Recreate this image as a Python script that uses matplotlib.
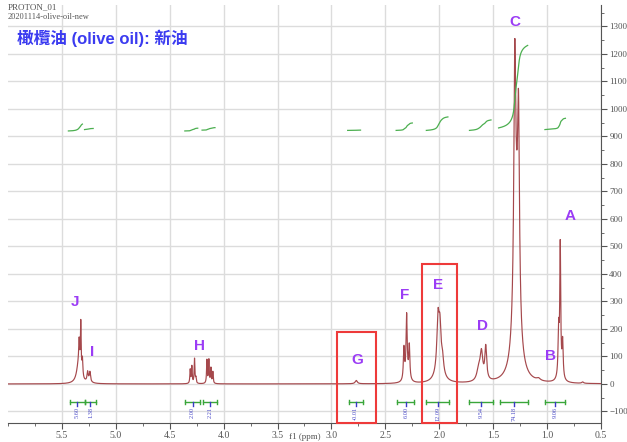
import numpy as np
import matplotlib
matplotlib.use("Agg")
import matplotlib.pyplot as plt
from matplotlib.patches import Rectangle

# ---- data ----
# peak list: position (ppm), height, half width (ppm)
peak_ppm = [5.345, 5.340, 5.325, 5.310, 5.262, 5.240, 5.250,
            4.310, 4.295, 4.270, 4.257, 4.155, 4.137, 4.118, 4.100,
            2.770,
            2.328, 2.303, 2.278, 2.300,
            2.012, 1.994, 1.970, 2.000,
            1.609, 1.569, 1.635,
            1.300, 1.265, 1.285,
            0.893, 0.878, 0.856, 0.880,
            1.080, 0.670]
peak_height = [70, 90, 180, 65, 32, 32, 10,
               50, 62, 90, 20, 85, 85, 55, 42,
               12,
               115, 215, 120, 30,
               180, 140, 50, 50,
               100, 120, 40,
               800, 660, 500,
               165, 460, 130, 30,
               8, 5]
peak_width = [0.022, 0.005, 0.004, 0.005, 0.006, 0.006, 0.020,
              0.004, 0.004, 0.004, 0.004, 0.004, 0.004, 0.004, 0.004,
              0.012,
              0.006, 0.006, 0.006, 0.020,
              0.012, 0.012, 0.012, 0.040,
              0.015, 0.010, 0.020,
              0.010, 0.010, 0.030,
              0.006, 0.005, 0.006, 0.020,
              0.020, 0.010]

# integral curves: region (ppm), start level, end level
int_from = [5.44, 5.29, 4.36, 4.20, 2.85, 2.40, 2.12, 1.72, 1.45, 1.02]
int_to = [5.31, 5.21, 4.24, 4.08, 2.73, 2.25, 1.92, 1.52, 1.18, 0.83]
int_y0 = [920, 925, 920, 923, 922, 922, 922, 922, 931, 925]
int_y1 = [945, 929, 930, 932, 923, 949, 971, 960, 1231, 966]

# integral bars and values
bar_from = [5.425, 5.286, 4.357, 4.19, 2.84, 2.39, 2.12, 1.72, 1.44, 1.02]
bar_to = [5.286, 5.184, 4.217, 4.06, 2.71, 2.23, 1.91, 1.50, 1.18, 0.83]
bar_labels = ["5.60", "1.38", "2.00", "2.21", "-0.01", "6.00", "12.09", "9.54", "74.18", "9.06"]

# peak letters
letters = ["J", "I", "H", "G", "F", "E", "D", "C", "B", "A"]
letter_ppm = [5.38, 5.22, 4.22, 2.76, 2.32, 2.01, 1.60, 1.30, 0.97, 0.79]
letter_y = [298, 116, 138, 87, 324, 360, 211, 1316, 102, 611]

# highlighted boxes (ppm left, ppm right, top)
box_left = [2.947, 2.164]
box_right = [2.59, 1.84]
box_top = [189, 436]

xticks = [5.5, 5.0, 4.5, 4.0, 3.5, 3.0, 2.5, 2.0, 1.5, 1.0, 0.5]
yticks = list(range(-100, 1301, 100))

# ---- figure ----
fig = plt.figure(figsize=(6.27, 4.42), dpi=100)
W, H = 627, 442
ax = fig.add_axes([8 / W, 1 - 423 / H, (601 - 8) / W, (423 - 5) / H])
ax.set_xlim(6.0, 0.5)
ax.set_ylim(-142, 1378)

x = np.linspace(6.0, 0.5, 12000)
y = np.zeros_like(x)
for p, h, w in zip(peak_ppm, peak_height, peak_width):
    y += h * w ** 2 / ((x - p) ** 2 + w ** 2)

ax.plot(x, y, color="#a5484c", lw=0.85, zorder=3)

# integral curves from the spectrum
for a, b, y0, y1 in zip(int_from, int_to, int_y0, int_y1):
    m = (x <= a) & (x >= b)
    xs = x[m]
    c = np.cumsum(y[m])
    c = (c - c[0]) / (c[-1] - c[0])
    ax.plot(xs, y0 + c * (y1 - y0), color="#4caf50", lw=0.9, zorder=3)

# integral bars
bar_y = -65
for a, b, lab in zip(bar_from, bar_to, bar_labels):
    ax.plot([a, b], [bar_y, bar_y], color="#3aa63a", lw=1.0, zorder=3)
    for e in (a, b):
        ax.plot([e, e], [bar_y - 8, bar_y + 8], color="#3aa63a", lw=1.0, zorder=3)
    mid = (a + b) / 2
    ax.plot([mid, mid], [bar_y, bar_y - 16], color="#3a3ac8", lw=1.0, zorder=3)
    ax.text(mid, bar_y - 18, lab, rotation=90, ha="center", va="top",
            fontsize=4.5, color="#4a4ac8", family="Liberation Serif")

# letters
for t, px, py in zip(letters, letter_ppm, letter_y):
    ax.text(px, py, t, ha="center", va="center", fontsize=11, fontweight="bold",
            color="#9b3cf5", family="Liberation Sans", zorder=4)

# boxes
for l, r, t in zip(box_left, box_right, box_top):
    ax.add_patch(Rectangle((l, -142), r - l, t + 142, fill=False,
                           edgecolor="#ee3a3a", lw=1.5, zorder=4, clip_on=False))

# grid and axes
ax.set_xticks(xticks)
ax.set_xticks(np.arange(0.5, 6.01, 0.25), minor=True)
ax.set_yticks(yticks)
ax.set_yticks(np.arange(-100, 1351, 50), minor=True)
ax.grid(True, which="major", color="#dcdcdc", lw=1.0, zorder=0)
ax.set_axisbelow(True)
for s in ("left", "top"):
    ax.spines[s].set_visible(False)
ax.spines["right"].set_color("#555555")
ax.spines["bottom"].set_color("#555555")
ax.yaxis.tick_right()
ax.tick_params(axis="y", which="major", direction="out", length=4, color="#555555",
               labelsize=6.5, labelcolor="#555555", pad=2)
ax.tick_params(axis="y", which="minor", direction="out", length=2, color="#555555")
ax.tick_params(axis="x", which="major", direction="out", length=4, color="#555555",
               labelsize=7, labelcolor="#555555", pad=2)
ax.tick_params(axis="x", which="minor", direction="out", length=2, color="#555555")
for lab in ax.get_xticklabels() + ax.get_yticklabels():
    lab.set_family("Liberation Serif")
ax.set_xticklabels([f"{v:.1f}" for v in xticks])

fig.text(305 / W, 1 / H, "f1 (ppm)", ha="center", va="bottom", fontsize=6.5,
         color="#555555", family="Liberation Serif")
fig.text(8 / W, 1 - 3 / H, "PROTON_01", ha="left", va="top", fontsize=6.5,
         color="#555555", family="Liberation Serif")
fig.text(8 / W, 1 - 13 / H, "20201114-olive-oil-new", ha="left", va="top", fontsize=6,
         color="#555555", family="Liberation Serif")
fig.text(17 / W, 1 - 38 / H, "橄欖油 (olive oil): 新油", ha="left", va="center",
         fontsize=12, fontweight="bold", color="#3b3bf0",
         family=["Liberation Sans", "Noto Sans CJK TC"])

fig.savefig("out.png", dpi=100)
